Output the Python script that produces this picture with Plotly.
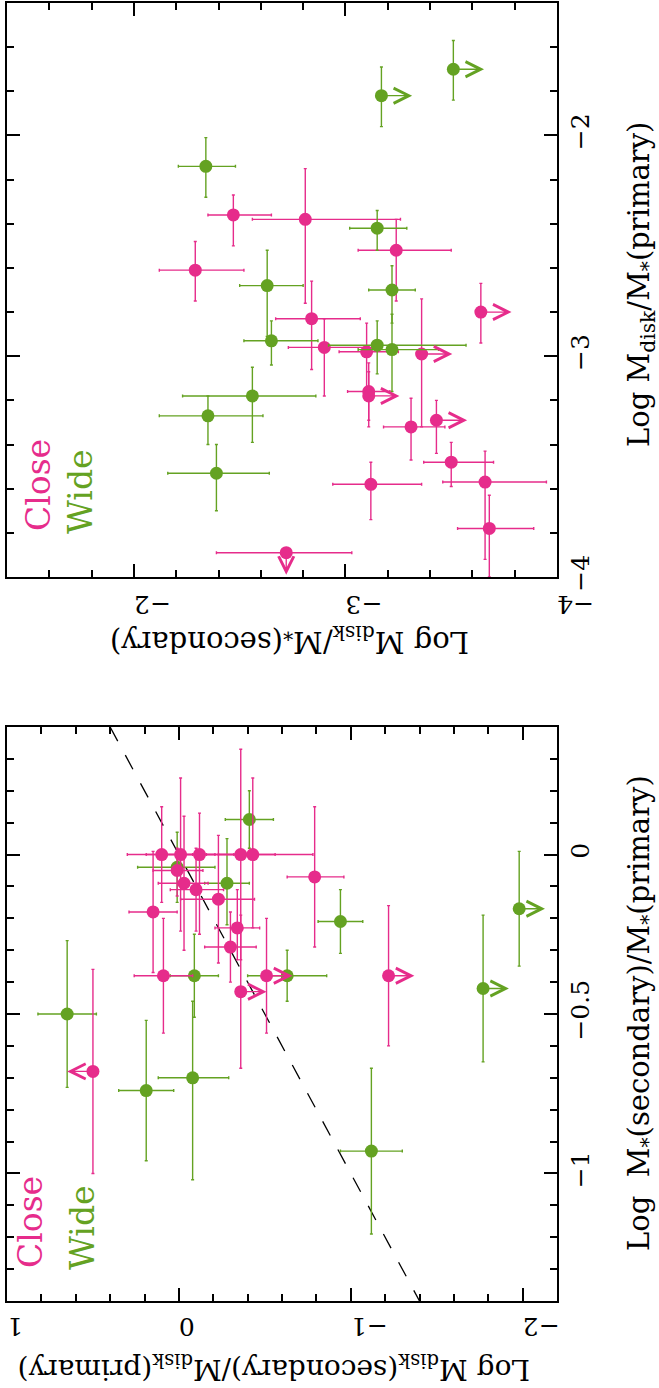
import plotly.graph_objects as go

PINK = '#E62C8B'
GREEN = '#64A222'
FONT = 'DejaVu Serif'

# ---------------- Panel A (upper on page): Log Mdisk/M*(secondary) vs Log Mdisk/M*(primary)
a_close_sec = [-2.47, -2.81, -3.24, -2.29, -2.84, -2.90, -3.10, -3.36, -3.64, -3.11,
               -3.11, -3.31, -3.43, -3.50, -3.66, -3.68, -3.12, -2.72]
a_close_prim = [-2.36, -2.38, -2.52, -2.61, -2.83, -2.96, -2.98, -2.99, -2.80, -3.16,
                -3.18, -3.32, -3.29, -3.48, -3.57, -3.78, -3.58, -3.89]
a_close_sec_ep = [0.12, 0.25, 0.18, 0.17, 0.17, 0.17, 0.13, 0, 0, 0.10,
                  0, 0.13, 0, 0.13, 0.20, 0.15, 0.18, 0.33]
a_close_sec_em = [0.18, 0.45, 0.26, 0.23, 0.23, 0.20, 0.15, 0, 0, 0.10,
                  0, 0.16, 0, 0.20, 0.29, 0.21, 0.24, 0.31]
a_close_prim_ep = [0.09, 0.23, 0.14, 0.13, 0.17, 0.13, 0.13, 0.25, 0.13, 0.13,
                   0.11, 0.13, 0.09, 0.09, 0.14, 0.15, 0.10, 0]
a_close_prim_em = [0.14, 0.38, 0.23, 0.14, 0.23, 0.22, 0.18, 0.33, 0.14, 0.13,
                   0.14, 0.15, 0.15, 0.11, 0.35, 0.22, 0.16, 0]
a_close_limit = ['', '', '', '', '', '', '', 'sec', 'sec', '',
                 'sec', '', 'sec', '', '', '', '', 'prim']

a_wide_sec = [-2.34, -3.15, -2.63, -2.65, -3.15, -3.22, -2.56, -2.35, -2.39, -3.17, -3.51, -3.22]
a_wide_prim = [-2.14, -2.42, -2.68, -2.93, -2.95, -2.97, -3.18, -3.27, -3.53, -1.82, -1.70, -2.70]
a_wide_sec_ep = [0.13, 0.13, 0.13, 0.13, 0.23, 0.16, 0.33, 0.23, 0.23, 0, 0, 0.11]
a_wide_sec_em = [0.14, 0.14, 0.17, 0.22, 0.42, 0.22, 0.30, 0.26, 0.25, 0, 0, 0.11]
a_wide_prim_ep = [0.13, 0.08, 0.16, 0.09, 0.11, 0.16, 0.13, 0.09, 0.13, 0.13, 0.13, 0.11]
a_wide_prim_em = [0.14, 0.10, 0.23, 0.11, 0.13, 0.19, 0.21, 0.13, 0.17, 0.14, 0.14, 0.15]
a_wide_limit = ['', '', '', '', '', '', '', '', '', 'sec', 'sec', '']

# ---------------- Panel B (lower on page): Log M*(sec)/M*(prim) vs Log Mdisk(sec)/Mdisk(prim)
b_close_disk = [0.10, -0.01, -0.12, -0.36, -0.43, 0.01, -0.03, -0.10, -0.23, 0.15,
                -0.34, -0.30, -0.79, 0.09, -0.51, -0.36, -1.22, 0.50]
b_close_star = [0.00, 0.00, 0.00, 0.00, 0.00, -0.05, -0.09, -0.11, -0.14, -0.18,
                -0.23, -0.29, -0.07, -0.38, -0.38, -0.43, -0.38, -0.68]
b_close_disk_ep = [0.20, 0.20, 0.20, 0.20, 0.20, 0.14, 0.15, 0.15, 0.22, 0.14,
                   0.13, 0.15, 0.16, 0.17, 0, 0, 0, 0]
b_close_disk_em = [0.18, 0.20, 0.20, 0.20, 0.35, 0.15, 0.14, 0.16, 0.21, 0.14,
                   0.13, 0.15, 0.17, 0.17, 0, 0, 0, 0]
b_close_star_ep = [0.15, 0.24, 0.13, 0.33, 0.24, 0.07, 0.21, 0.13, 0.20, 0.19,
                   0.12, 0.11, 0.22, 0.18, 0.18, 0.24, 0.22, 0.32]
b_close_star_em = [0.15, 0.24, 0.25, 0.33, 0.23, 0.08, 0.21, 0.13, 0.20, 0.19,
                   0.10, 0.11, 0.22, 0.18, 0.18, 0.24, 0.22, 0.32]
b_close_limit = ['', '', '', '', '', '', '', '', '', '',
                 '', '', '', '', 'upper', 'upper', 'upper', 'lower']

b_wide_disk = [-0.41, 0.01, -0.28, -0.94, -0.09, -0.63, -1.77, -1.98, -1.12, 0.65, 0.19, -0.08]
b_wide_star = [0.11, -0.04, -0.09, -0.21, -0.38, -0.38, -0.42, -0.17, -0.93, -0.50, -0.74, -0.70]
b_wide_disk_ep = [0.14, 0.23, 0.13, 0.13, 0.14, 0.23, 0, 0, 0.18, 0.17, 0.16, 0.20]
b_wide_disk_em = [0.14, 0.22, 0.13, 0.13, 0.14, 0.23, 0, 0, 0.18, 0.17, 0.16, 0.21]
b_wide_star_ep = [0.09, 0.11, 0.14, 0.10, 0.13, 0.08, 0.23, 0.18, 0.26, 0.23, 0.22, 0.24]
b_wide_star_em = [0.09, 0.11, 0.13, 0.10, 0.13, 0.08, 0.23, 0.18, 0.26, 0.23, 0.22, 0.32]
b_wide_limit = ['', '', '', '', '', '', 'upper', 'upper', '', '', '', '']

equal_line = [0.4, -1.4]

# ---------------- figure
W, H = 659, 1388
fig = go.Figure()


def err(plus, minus, color):
    return dict(type='data', symmetric=False, array=plus, arrayminus=minus,
                color=color, thickness=1.4, width=1.5)


def add_points(x, y, xep, xem, yep, yem, color, xa, ya):
    fig.add_trace(go.Scatter(
        x=x, y=y, mode='markers', xaxis=xa, yaxis=ya,
        marker=dict(size=13, color=color, line=dict(width=0)),
        error_x=err(xep, xem, color), error_y=err(yep, yem, color),
        showlegend=False, hoverinfo='skip'))


# Panel A: pink first, green on top
add_points(a_close_sec, a_close_prim, a_close_sec_ep, a_close_sec_em,
           a_close_prim_ep, a_close_prim_em, PINK, 'x', 'y')
add_points(a_wide_sec, a_wide_prim, a_wide_sec_ep, a_wide_sec_em,
           a_wide_prim_ep, a_wide_prim_em, GREEN, 'x', 'y')

# Panel B: equality line, green, then pink
fig.add_trace(go.Scatter(x=equal_line, y=equal_line, mode='lines', xaxis='x2', yaxis='y2',
                         line=dict(color='black', width=1.3, dash='16px,16px'),
                         showlegend=False, hoverinfo='skip'))
add_points(b_wide_disk, b_wide_star, b_wide_disk_ep, b_wide_disk_em,
           b_wide_star_ep, b_wide_star_em, GREEN, 'x2', 'y2')
add_points(b_close_disk, b_close_star, b_close_disk_ep, b_close_disk_em,
           b_close_star_ep, b_close_star_em, PINK, 'x2', 'y2')

annotations = []


def arrow(x0, y0, x1, y1, color, xr, yr):
    annotations.append(dict(x=x1, y=y1, ax=x0, ay=y0, xref=xr, yref=yr, axref=xr, ayref=yr,
                            text='', showarrow=True, arrowhead=5, arrowsize=2.3,
                            arrowwidth=1.3, arrowcolor=color, standoff=0, startstandoff=0))


LEN_A_X, LEN_A_Y, LEN_B = 0.145, 0.10, 0.15
for xs, ys, lim, col in [(a_close_sec, a_close_prim, a_close_limit, PINK),
                         (a_wide_sec, a_wide_prim, a_wide_limit, GREEN)]:
    for xv, yv, l in zip(xs, ys, lim):
        if l == 'sec':
            arrow(xv, yv, xv - LEN_A_X, yv, col, 'x', 'y')
        elif l == 'prim':
            arrow(xv, yv, xv, yv - LEN_A_Y, col, 'x', 'y')
for xs, ys, lim, col in [(b_close_disk, b_close_star, b_close_limit, PINK),
                         (b_wide_disk, b_wide_star, b_wide_limit, GREEN)]:
    for xv, yv, l in zip(xs, ys, lim):
        if l == 'upper':
            arrow(xv, yv, xv - LEN_B, yv, col, 'x2', 'y2')
        elif l == 'lower':
            arrow(xv, yv, xv + LEN_B, yv, col, 'x2', 'y2')


def px(xp):
    return xp / W


def py(yp):
    return 1 - yp / H


def label(text, xp, yp, angle, size, color='black'):
    annotations.append(dict(text=text, x=px(xp), y=py(yp), xref='paper', yref='paper',
                            showarrow=False, textangle=angle, xanchor='center', yanchor='middle',
                            font=dict(family=FONT, size=size, color=color)))


# axis titles
label('Log M<sub>disk</sub>/M<sub>*</sub>(primary)', 641, 285, -90, 29)
label('Log M<sub>disk</sub>/M<sub>*</sub>(secondary)', 290, 640, 180, 29)
label('Log  M<sub>*</sub>(secondary)/M<sub>*</sub>(primary)', 641, 1013, -90, 29)
label('Log M<sub>disk</sub>(secondary)/M<sub>disk</sub>(primary)', 274, 1368, 180, 28)
# in-panel keys
label('Close', 38, 485, -90, 33, PINK)
label('Wide', 80, 492, -90, 33, GREEN)
label('Close', 30, 1222, -90, 33, PINK)
label('Wide', 82, 1228, -90, 33, GREEN)

X0, X1 = 7, 557
common = dict(showline=True, linecolor='black', linewidth=2, mirror='ticks',
              ticks='inside', ticklen=13, tickwidth=1.8, tickcolor='black',
              showgrid=False, zeroline=False, automargin=False,
              tickfont=dict(family=FONT, size=25, color='black'))
minor_common = dict(ticklen=7, ticks='inside', tickwidth=1.8, tickcolor='black')

fig.update_layout(
    width=W, height=H, margin=dict(l=0, r=0, t=0, b=0, autoexpand=False),
    paper_bgcolor='white', plot_bgcolor='white',
    xaxis=dict(domain=[px(X0), px(X1)], range=[-1.4, -4], anchor='y', dtick=1, tick0=0,
               tickangle=180, ticklabelstandoff=12,
               minor=dict(dtick=0.2, **minor_common), **common),
    yaxis=dict(domain=[py(577), py(3)], range=[-4, -1.4], anchor='x', side='right', dtick=1,
               tick0=0, tickangle=-90, minor=dict(dtick=0.2, **minor_common), **common),
    xaxis2=dict(domain=[px(X0), px(X1)], range=[1, -2.2], anchor='y2', dtick=1, tick0=0,
                tickangle=180, ticklabelstandoff=10,
                minor=dict(dtick=0.2, **minor_common), **common),
    yaxis2=dict(domain=[py(1301), py(727)], range=[-1.4, 0.4], anchor='x2', side='right',
                dtick=0.5, tick0=0, tickangle=-90, minor=dict(dtick=0.1, **minor_common),
                **common),
    annotations=annotations,
)

fig.write_html('out.html')
